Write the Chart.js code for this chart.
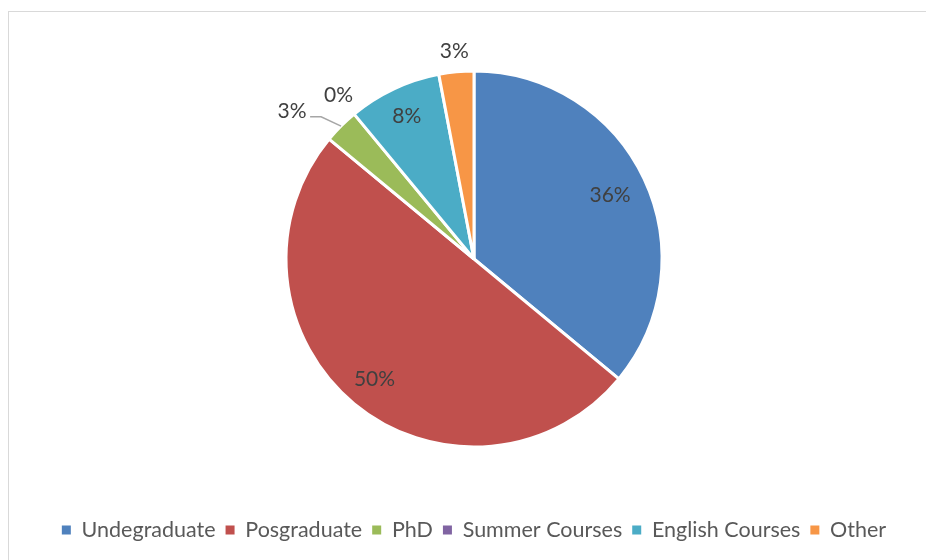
<!DOCTYPE html>
<html>
<head>
<meta charset="utf-8">
<script src="https://cdn.jsdelivr.net/npm/chart.js@4.4.0/dist/chart.umd.min.js"></script>
<style>
    html, body { margin: 0; padding: 0; background: #fff; }
    #wrap { position: relative; width: 926px; height: 560px; overflow: hidden; }
    #frame { position: absolute; left: 8px; top: 11px; width: 940px; height: 600px;
             border-left: 1px solid #d9d9d9; border-top: 1px solid #d9d9d9; }
    #chart { position: absolute; left: 0; top: 0; }
</style>
</head>
<body>
<div id="wrap">
    <div id="frame"></div>
    <canvas id="chart" width="926" height="560"></canvas>
</div>
<script>
// Chart data
const categories = ['Undegraduate', 'Posgraduate', 'PhD', 'Summer Courses', 'English Courses', 'Other'];
const shares = [36, 50, 3, 0, 8, 3];
const sliceColors = ['#4F81BD', '#C0504D', '#9BBB59', '#8064A2', '#4BACC6', '#F79646'];

// Label placement: fraction of the radius (>1 = outside) and an angle nudge in degrees
const labelRadius = [0.80, 0.83, 1.245, 1.13, 0.84, 1.11];
const labelNudge = [0, 0, -6, 0, 0, 0];

// Draws the percentage labels on / around the slices
const sliceLabels = {
    id: 'sliceLabels',
    afterDatasetsDraw(chart) {
        const ctx = chart.ctx;
        const meta = chart.getDatasetMeta(0);
        const values = chart.data.datasets[0].data;
        const total = values.reduce((a, b) => a + b, 0);

        ctx.save();
        ctx.font = '21px Lato';
        ctx.fillStyle = '#404040';
        ctx.textAlign = 'center';
        ctx.textBaseline = 'middle';

        meta.data.forEach((arc, i) => {
            const p = arc.getProps(['x', 'y', 'startAngle', 'endAngle', 'outerRadius'], true);
            const mid = (p.startAngle + p.endAngle) / 2;
            const ang = mid + labelNudge[i] * Math.PI / 180;
            const r = p.outerRadius * labelRadius[i];
            const lx = p.x + Math.cos(ang) * r;
            const ly = p.y + Math.sin(ang) * r;
            const text = Math.round(values[i] / total * 100) + '%';

            // leader line for the label placed far outside
            if (labelRadius[i] > 1.2) {
                const ex = p.x + Math.cos(mid) * p.outerRadius;
                const ey = p.y + Math.sin(mid) * p.outerRadius;
                ctx.strokeStyle = '#a6a6a6';
                ctx.lineWidth = 1.5;
                ctx.beginPath();
                ctx.moveTo(lx + 18, ly + 5);
                ctx.lineTo(lx + 29, ly + 5);
                ctx.lineTo(ex, ey);
                ctx.stroke();
            }
            ctx.fillText(text, lx, ly);
        });
        ctx.restore();
    }
};

const chart = new Chart(document.getElementById('chart'), {
    type: 'pie',
    data: {
        labels: categories,
        datasets: [{
            data: shares,
            backgroundColor: sliceColors,
            borderColor: '#ffffff',
            borderWidth: 3
        }]
    },
    options: {
        responsive: false,
        animation: false,
        radius: 188,
        layout: {
            padding: { top: 8.75, bottom: 9.25, left: 22, right: 0 }
        },
        plugins: {
            tooltip: { enabled: false },
            legend: {
                position: 'bottom',
                labels: {
                    boxWidth: 9,
                    boxHeight: 9,
                    padding: 10,
                    color: '#595959',
                    font: { family: 'Lato', size: 21.5 },
                    generateLabels(chart) {
                        const items = Chart.controllers.pie.overrides.plugins.legend.labels.generateLabels(chart);
                        items.forEach(item => { item.lineWidth = 0; item.strokeStyle = item.fillStyle; });
                        return items;
                    }
                }
            }
        }
    },
    plugins: [sliceLabels]
});
</script>
</body>
</html>
